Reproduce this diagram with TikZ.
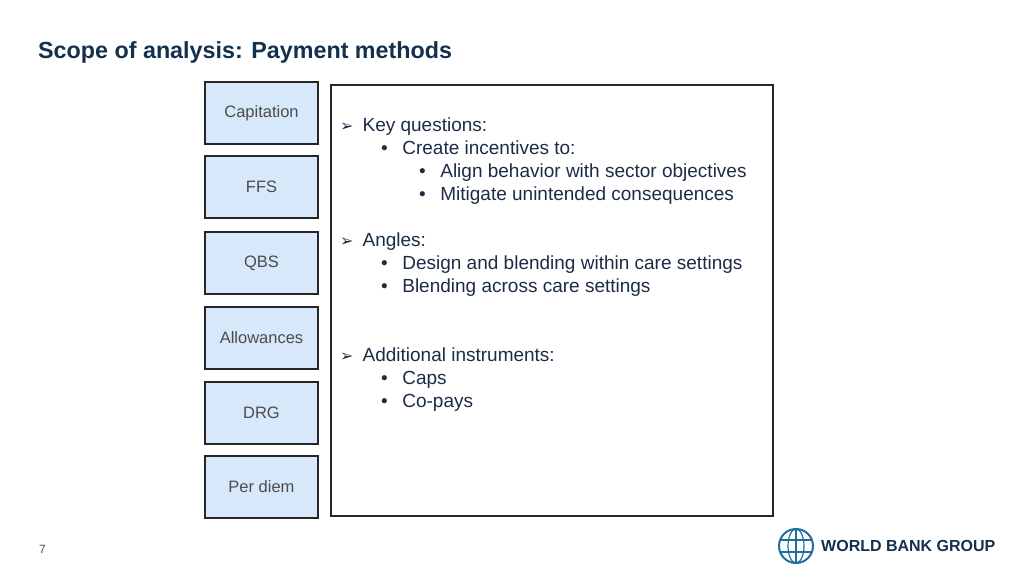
\documentclass[tikz,border=0pt]{standalone}
\usepackage{fontspec}
\setmainfont{Liberation Sans}
\newfontfamily\symfont{DejaVu Sans}
\definecolor{navy}{HTML}{14304F}
\definecolor{boxfill}{HTML}{D6E8FA}
\definecolor{txt}{HTML}{1C2C45}
\definecolor{logoblue}{HTML}{1F6E9C}
\tikzset{
  method/.style={draw=black!85, line width=1.2pt, fill=boxfill, minimum width=113pt, minimum height=62pt, font=\fontsize{16.5}{18}\selectfont, text=black!70},
  line/.style={anchor=base west, font=\fontsize{19}{21}\selectfont, text=txt, inner sep=0pt}
}
\newcommand{\arrbullet}{{\symfont\fontsize{16}{17}\selectfont ➢}}
\begin{document}
\begin{tikzpicture}[x=1pt, y=-1pt]
\useasboundingbox (0,0) rectangle (1024,576);
\node[anchor=base west, font=\bfseries\fontsize{23.3}{25}\selectfont, text=navy, inner sep=0pt] (title) at (38,58) {Scope of analysis: Payment methods};
% payment method boxes
\node[method] (cap) at (261.5,113) {Capitation};
\node[method] (ffs) at (261.5,187) {FFS};
\node[method] (qbs) at (261.5,263) {QBS};
\node[method] (allow) at (261.5,338) {Allowances};
\node[method] (drg) at (261.5,413) {DRG};
\node[method] (diem) at (261.5,487) {Per diem};
% text panel
\draw[line width=1.2pt, black!85] (331,85) rectangle (773,516);
\node[line] (kq) at (340,131) {\arrbullet\hspace{9pt}Key questions:};
\node[line] (ci) at (381,154) {•\hspace{14.5pt}Create incentives to:};
\node[line] (ab) at (419,177) {•\hspace{14.5pt}Align behavior with sector objectives};
\node[line] (mu) at (419,200) {•\hspace{14.5pt}Mitigate unintended consequences};
\node[line] (an) at (340,246) {\arrbullet\hspace{9pt}Angles:};
\node[line] (db) at (381,269) {•\hspace{14.5pt}Design and blending within care settings};
\node[line] (ba) at (381,292) {•\hspace{14.5pt}Blending across care settings};
\node[line] (ai) at (340,361) {\arrbullet\hspace{9pt}Additional instruments:};
\node[line] (cp) at (381,384) {•\hspace{14.5pt}Caps};
\node[line] (co) at (381,407) {•\hspace{14.5pt}Co-pays};
% page number and logo
\node[anchor=base west, font=\fontsize{12}{14}\selectfont, text=black!70, inner sep=0pt] (pg) at (39,553) {7};
\draw[logoblue, line width=2pt] (796,546) circle (17);
\draw[logoblue, line width=1.2pt] (796,546) ellipse (8 and 17);
\draw[logoblue, line width=1.2pt] (780,540) -- (812,540) (780,552) -- (812,552) (796,529) -- (796,563);
\node[anchor=west, font=\bfseries\fontsize{16}{18}\selectfont, text=navy, inner sep=0pt] (wbg) at (821,546) {WORLD BANK GROUP};
\end{tikzpicture}
\end{document}
